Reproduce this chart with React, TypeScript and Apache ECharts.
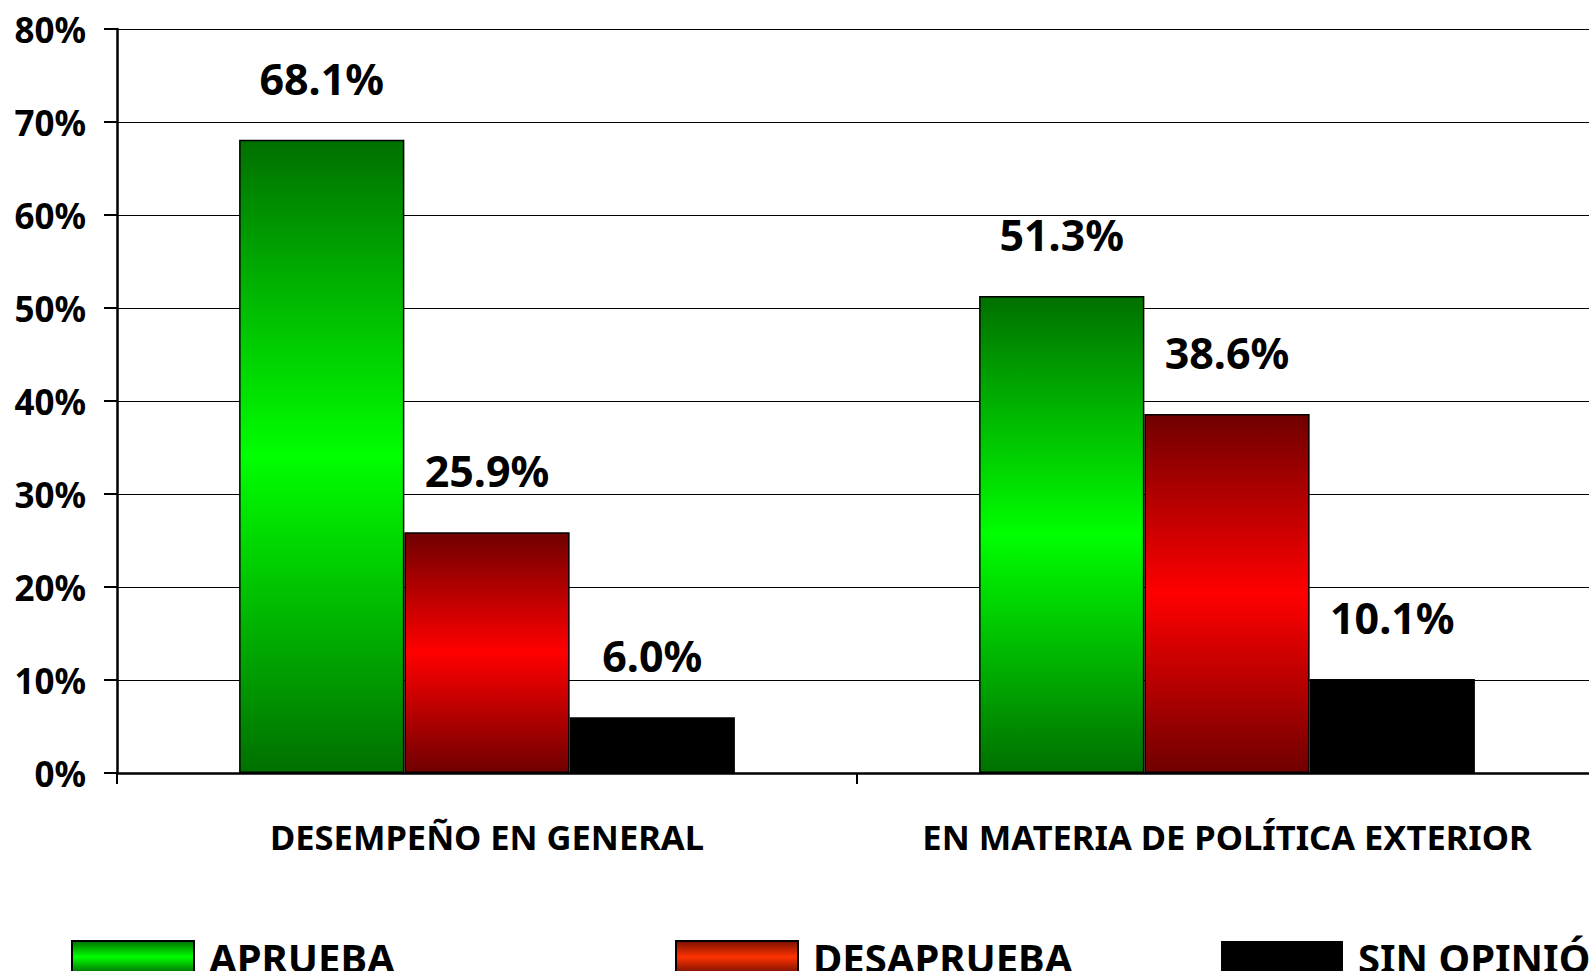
import React, { useEffect, useRef } from "react";
import * as echarts from "echarts";

const categories = ["DESEMPEÑO EN GENERAL", "EN MATERIA DE POLÍTICA EXTERIOR"];
const seriesNames = ["APRUEBA", "DESAPRUEBA", "SIN OPINIÓN"];
const aprueba = [68.1, 51.3];
const desaprueba = [25.9, 38.6];
const sinOpinion = [6.0, 10.1];
const yTicks = { min: 0, max: 80, interval: 10 };

const FONT = "'Noto Sans', 'DejaVu Sans', sans-serif";

const vGrad = (edge: string, mid: string) =>
  new echarts.graphic.LinearGradient(0, 0, 0, 1, [
    { offset: 0, color: edge },
    { offset: 0.5, color: mid },
    { offset: 1, color: edge },
  ]);

export default function App() {
  const ref = useRef<HTMLDivElement>(null);
  useEffect(() => {
    if (!ref.current) return;
    const chart = echarts.init(ref.current, undefined, { renderer: "svg" });
    const label = {
      show: true,
      position: "top",
      distance: 40,
      fontFamily: FONT,
      fontWeight: "bold",
      fontSize: 43,
      lineHeight: 43,
      color: "#000",
      formatter: (p: any) => Number(p.value).toFixed(1) + "%",
    };
    const legendBase = {
      top: 931,
      padding: 0,
      itemWidth: 122,
      itemHeight: 32,
      icon: "rect",
      textStyle: {
        fontFamily: FONT,
        fontWeight: "bold",
        fontSize: 40,
        lineHeight: 40,
        color: "#000",
        padding: [0, 0, 12, 10],
      },
    };
    chart.setOption({
      animation: false,
      backgroundColor: "#fff",
      grid: { left: 117, right: 8, top: 29, bottom: 198, containLabel: false },
      legend: [
        { ...legendBase, left: 71, data: [{ name: seriesNames[0], itemStyle: { color: vGrad("#007000", "#00ff00") } }] },
        { ...legendBase, left: 675, data: [{ name: seriesNames[1], itemStyle: { color: vGrad("#7a1000", "#ff3300") } }] },
        { ...legendBase, left: 1221, data: [{ name: seriesNames[2], itemStyle: { color: "#000" } }] },
      ],
      xAxis: {
        type: "category",
        data: categories,
        axisLine: { lineStyle: { color: "#000", width: 2.5 } },
        axisTick: { show: true, length: 11, lineStyle: { color: "#000", width: 2 } },
        axisLabel: {
          interval: 0,
          margin: 45,
          fontFamily: FONT,
          fontWeight: "bold",
          fontSize: 34.5,
          lineHeight: 36,
          color: "#000",
        },
      },
      yAxis: {
        type: "value",
        min: yTicks.min,
        max: yTicks.max,
        interval: yTicks.interval,
        axisLine: { show: true, lineStyle: { color: "#000", width: 2.5 } },
        axisTick: { show: true, length: 13, lineStyle: { color: "#000", width: 2 } },
        splitLine: { show: true, lineStyle: { color: "#000", width: 1.2 } },
        axisLabel: {
          margin: 31,
          formatter: "{value}%",
          fontFamily: FONT,
          fontWeight: "bold",
          fontSize: 35,
          color: "#000",
        },
      },
      series: [
        {
          name: seriesNames[0],
          type: "bar",
          data: aprueba,
          barGap: "0%",
          barCategoryGap: "33%",
          itemStyle: { color: vGrad("#007000", "#00ff00"), borderColor: "#000", borderWidth: 1.5 },
          label,
        },
        {
          name: seriesNames[1],
          type: "bar",
          data: desaprueba,
          barGap: "0%",
          barCategoryGap: "33%",
          itemStyle: { color: vGrad("#700000", "#ff0000"), borderColor: "#000", borderWidth: 1.5 },
          label,
        },
        {
          name: seriesNames[2],
          type: "bar",
          data: sinOpinion,
          barGap: "0%",
          barCategoryGap: "33%",
          itemStyle: { color: "#000" },
          label,
        },
      ],
    });
    return () => chart.dispose();
  }, []);
  return (
    <div
      ref={ref}
      style={{ position: "fixed", left: 0, top: 0, width: 1605, height: 971, background: "#fff" }}
    />
  );
}
